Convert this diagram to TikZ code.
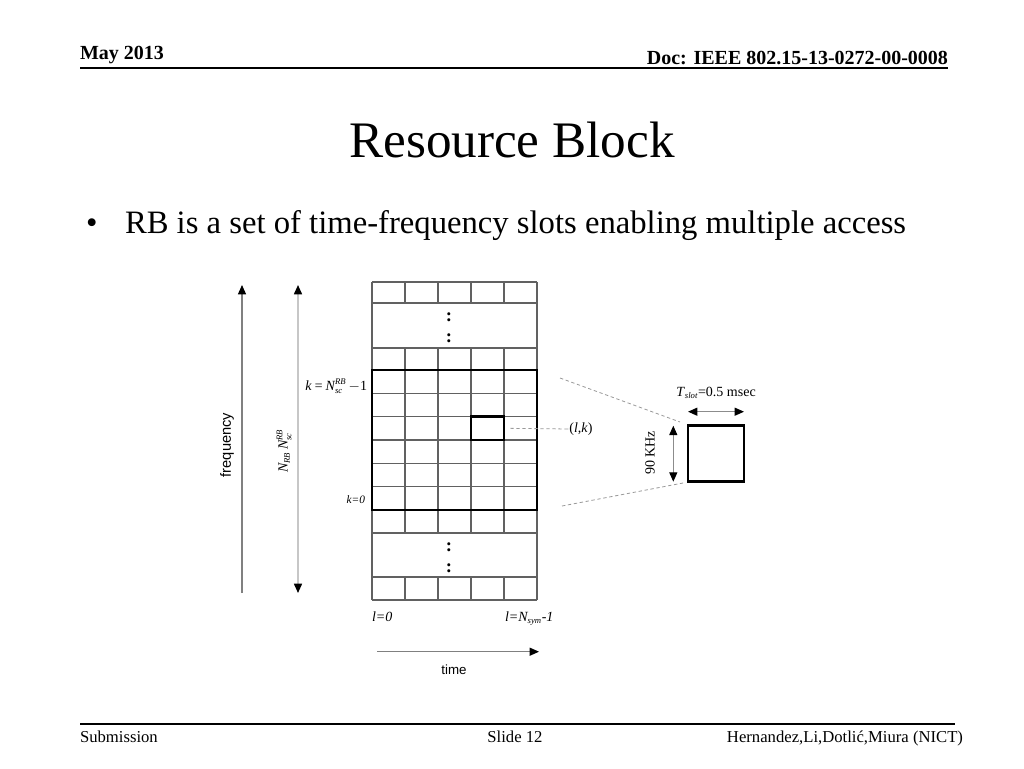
\documentclass[tikz,border=0pt]{standalone}
\usepackage{fontspec}
\setmainfont{Liberation Serif}
\setsansfont{Liberation Sans}
\usetikzlibrary{arrows.meta}
\newcommand{\supsub}[2]{$^{\hbox{\fontsize{6.5}{6.5}\selectfont\itshape #1}}_{\hbox{\fontsize{6.5}{6.5}\selectfont\itshape #2}}$}
\newcommand{\subonly}[1]{$_{\hbox{\fontsize{6.5}{6.5}\selectfont\itshape #1}}$}
\tikzset{
  gridline/.style={draw=black!62, line width=0.9pt},
  rbline/.style={draw=black, line width=2.1pt},
  tipend/.style={-{Triangle[length=7pt,width=6pt,color=black]}},
  tipboth/.style={{Triangle[length=7pt,width=6pt,color=black]}-{Triangle[length=7pt,width=6pt,color=black]}},
  zoomline/.style={draw=black!40, line width=0.6pt, dash pattern=on 2.5pt off 2pt},
  txt/.style={inner sep=0pt, outer sep=0pt},
  vdots/.style={txt, font=\bfseries\fontsize{14}{14}\selectfont},
  rule/.style={draw=black, line width=1.2pt}
}
\begin{document}
\begin{tikzpicture}[x=0.75pt,y=-0.75pt]
\useasboundingbox[fill=white] (0,0) rectangle (1024,768);

% header
\node[txt, anchor=base west, font=\fontsize{15}{15}\selectfont\bfseries] (date) at (80,59) {May 2013};
\node[txt, anchor=base east, font=\fontsize{15}{15}\selectfont\bfseries] (doc) at (948,64) {Doc: IEEE 802.15-13-0272-00-0008};
\coordinate (hl) at (80,68); \coordinate (hr) at (948,68);
\draw[rule] (hl) -- (hr);

% title
\node[txt, anchor=base, font=\fontsize{38.4}{40}\selectfont] (title) at (512,157) {Resource Block};

% bullet
\node[txt, anchor=base west, font=\fontsize{24.5}{24.5}\selectfont] (dot) at (86,233) {•};
\node[txt, anchor=base west, font=\fontsize{24.5}{24.5}\selectfont] (bullet) at (125,233) {RB is a set of time-frequency slots enabling multiple access};

% grid horizontal lines
\foreach \y in {282,303,348,370,393.33,416.67,440,463.33,486.67,510,533,577,600}
  \draw[gridline] (372,\y) -- (537,\y);
% grid outer verticals
\draw[gridline] (372,282) -- (372,600);
\draw[gridline] (537,282) -- (537,600);
% grid inner verticals
\foreach \x in {405,438,471,504} {
  \draw[gridline] (\x,282) -- (\x,303);
  \draw[gridline] (\x,348) -- (\x,533);
  \draw[gridline] (\x,577) -- (\x,600);
}
% dots
\node[vdots] (dotsa) at (449,317) {:};
\node[vdots] (dotsb) at (449,338) {:};
\node[vdots] (dotsc) at (449,547) {:};
\node[vdots] (dotsd) at (449,568) {:};

% resource block
\coordinate (rbnw) at (372,370); \coordinate (rbse) at (537,510);
\draw[rbline] (rbnw) rectangle (rbse);
\node[rbline, minimum width=24.75pt, minimum height=17.5pt, inner sep=0pt] (cell) at (487.5,428.33) {};

% frequency arrows
\coordinate (fa0) at (242,593); \coordinate (fa1) at (242,285);
\draw[draw=black!50, line width=0.9pt, tipend] (fa0) -- (fa1);
\coordinate (fb0) at (298,593); \coordinate (fb1) at (298,285);
\draw[draw=black!22, line width=1.2pt, tipboth] (fb0) -- (fb1);
\node[txt, rotate=90, font=\sffamily\fontsize{11}{11}\selectfont] (freq) at (227,445) {frequency};
\node[txt, rotate=90, font=\fontsize{10.5}{10.5}\selectfont] (nrb) at (284,451) {\itshape N\subonly{RB}\,N\supsub{RB}{sc}};

% k labels
\node[txt, anchor=base east, font=\fontsize{10.5}{10.5}\selectfont] (ktop) at (367,390) {\itshape k\,=\,N\supsub{RB}{sc}\,\upshape$-$1};
\node[txt, anchor=base east, font=\fontsize{8.5}{8.5}\selectfont\itshape] (kzero) at (365,503) {k=0};

% (l,k)
\node[txt, font=\fontsize{10.5}{10.5}\selectfont] (lk) at (581,429) {(\textit{l},\textit{k})};
\draw[zoomline] (cell.east) ++(5,0) -- (lk.west) -- ++(-2,0);

% zoom lines
\coordinate (za0) at (560,378); \coordinate (za1) at (680,422);
\coordinate (zb0) at (562,506); \coordinate (zb1) at (683,483);
\draw[zoomline] (za0) -- (za1);
\draw[zoomline] (zb0) -- (zb1);

% slot square
\node[rbline, minimum width=42pt, minimum height=42pt, inner sep=0pt] (slot) at (716,453.7) {};
\coordinate (ta0) at (688,411.7); \coordinate (ta1) at (744,411.7);
\draw[draw=black!45, line width=0.8pt, tipboth] (ta0) -- (ta1);
\node[txt, anchor=base, font=\fontsize{10.5}{10.5}\selectfont] (tslot) at (716,396.5) {\textit{T}\subonly{slot}=0.5 msec};
\coordinate (va0) at (673.3,425.7); \coordinate (va1) at (673.3,481.7);
\draw[draw=black!45, line width=0.8pt, tipboth] (va0) -- (va1);
\node[txt, rotate=90, font=\fontsize{10.5}{10.5}\selectfont] (khz) at (650,453) {90 KHz};

% l labels
\node[txt, anchor=base west, font=\fontsize{10.5}{10.5}\selectfont\itshape] (lzero) at (372,621.5) {l=0};
\node[txt, anchor=base west, font=\fontsize{10.5}{10.5}\selectfont\itshape] (lend) at (505,621.5) {l=N\subonly{sym}-1};

% time arrow
\coordinate (tm0) at (377,651.7); \coordinate (tm1) at (539,651.7);
\draw[draw=black!50, line width=0.9pt, tipend] (tm0) -- (tm1);
\node[txt, anchor=base, font=\sffamily\fontsize{10}{10}\selectfont] (time) at (454,674) {time};

% footer
\coordinate (fl) at (80,724); \coordinate (fr) at (955,724);
\draw[rule] (fl) -- (fr);
\node[txt, anchor=base west, font=\fontsize{12.5}{12.5}\selectfont] (sub) at (80,742) {Submission};
\node[txt, anchor=base, font=\fontsize{12.5}{12.5}\selectfont] (slide) at (515,742) {Slide 12};
\node[txt, anchor=base east, font=\fontsize{12.5}{12.5}\selectfont] (auth) at (963,742) {Hernandez,Li,Dotlić,Miura (NICT)};
\end{tikzpicture}
\end{document}
